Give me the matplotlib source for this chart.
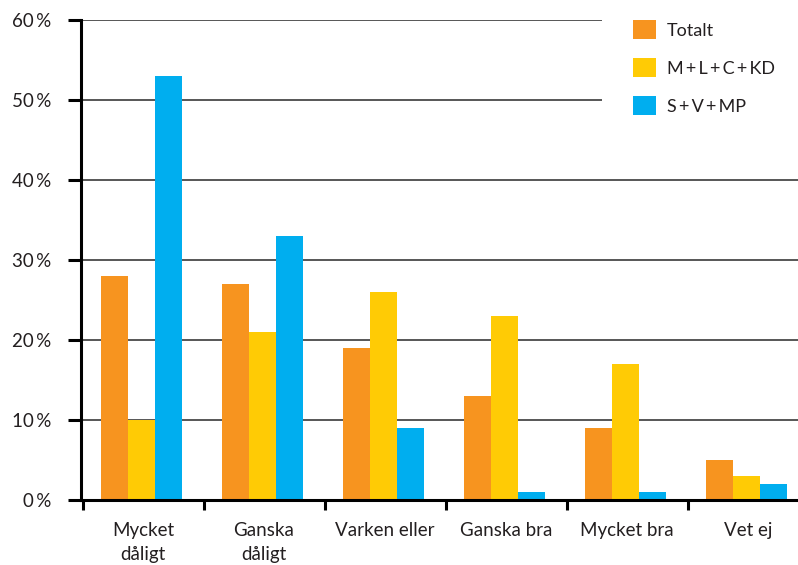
import matplotlib
matplotlib.use("Agg")
import matplotlib.pyplot as plt
from matplotlib.patches import Rectangle
import numpy as np

categories = ["Mycket\ndåligt", "Ganska\ndåligt", "Varken eller", "Ganska bra", "Mycket bra", "Vet ej"]
series_names = ["Totalt", "M\u2009+\u2009L\u2009+\u2009C\u2009+\u2009KD", "S\u2009+\u2009V\u2009+\u2009MP"]
totalt = [28, 27, 19, 13, 9, 5]
mlckd = [10, 21, 26, 23, 17, 3]
svmp = [53, 33, 9, 1, 1, 2]
yticks = [0, 10, 20, 30, 40, 50, 60]
ytick_labels = ["0\u2009%", "10\u2009%", "20\u2009%", "30\u2009%", "40\u2009%", "50\u2009%", "60\u2009%"]
colors = ["#F7941F", "#FFCB05", "#00AEEF"]

plt.rcParams['font.family'] = ['Lato', 'DejaVu Sans']
text_color = "#231f20"

W, H = 798, 565
fig = plt.figure(figsize=(W / 100, H / 100), dpi=100)
ax = fig.add_axes([81 / W, 65 / H, (W - 81) / W, 480 / H])

x = np.arange(len(categories))
bw = 0.223
shift = -0.012
for i, (vals, name) in enumerate(zip([totalt, mlckd, svmp], series_names)):
    ax.bar(x + shift + (i - 1) * bw, vals, width=bw, color=colors[i], label=name, zorder=3)

for yv in yticks[1:]:
    ax.axhline(yv, color="#3a3a3a", lw=1.2, zorder=1)

# white panel behind legend (hides gridlines there)
ax.add_patch(Rectangle((602 / W, 1 - 130 / H), 1, 130 / H, transform=fig.transFigure,
                       facecolor="white", edgecolor="none", zorder=2, clip_on=False))

ax.set_yticks(yticks)
ax.set_yticklabels(ytick_labels, fontsize=13.5, color=text_color)
ax.tick_params(axis='y', length=9.4, width=2.2, color="black", pad=12)

ax.set_xticks(np.arange(len(categories)) - 0.5)
ax.set_xticklabels([])
ax.tick_params(axis='x', which='major', length=7.2, width=2.2, color="black")
ax.set_xticks(x, minor=True)
ax.set_xticklabels(categories, minor=True, fontsize=13.5, color=text_color, linespacing=1.5)
ax.tick_params(axis='x', which='minor', length=0, pad=16)

ax.set_ylim(0, 60)
xmin = -0.5 - 1.5 / 121
xmax = xmin + (W - 81) / 121
ax.set_xlim(xmin, xmax)

for s in ["top", "right"]:
    ax.spines[s].set_visible(False)
ax.spines["left"].set_linewidth(2.2)
ax.spines["bottom"].set_linewidth(2.2)
ax.spines["left"].set_zorder(4)
ax.spines["bottom"].set_zorder(4)

leg = fig.legend(loc="upper left", bbox_to_anchor=(633 / W, 1 - 20 / H), frameon=False, fontsize=13,
                 handlelength=1.27, handleheight=1.27, labelspacing=1.03, handletextpad=0.6,
                 borderpad=0.0, borderaxespad=0.0)
for t in leg.get_texts():
    t.set_color(text_color)

fig.savefig("out.png", dpi=100)
